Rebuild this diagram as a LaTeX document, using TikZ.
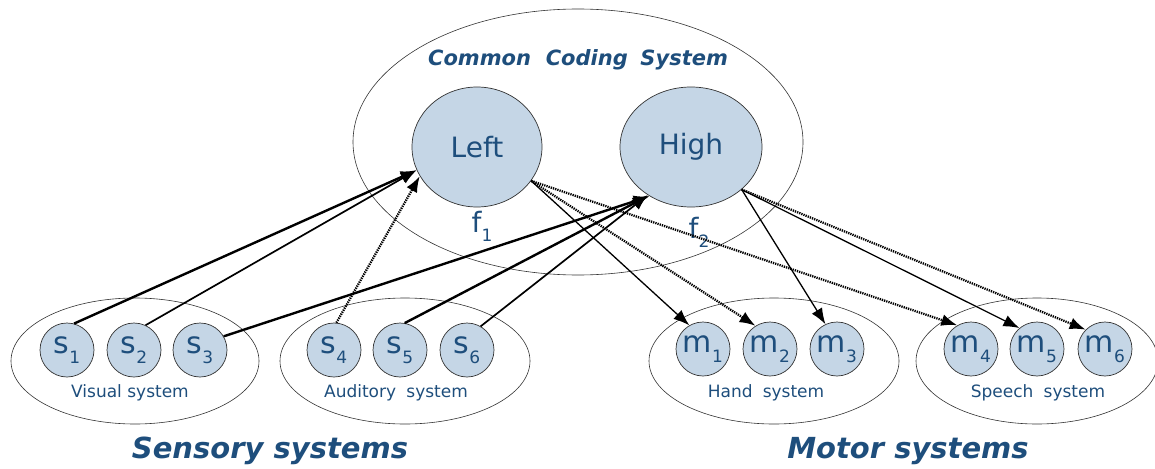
\documentclass[tikz,border=0pt]{standalone}
\usepackage{fontspec}
\setmainfont{DejaVu Sans}
\usetikzlibrary{shapes.geometric,arrows.meta}
\definecolor{txtblue}{RGB}{30,78,124}
\definecolor{cfill}{RGB}{197,214,230}
\newcommand{\lowsub}[1]{\raisebox{-0.32em}{\fontsize{17}{17}\selectfont #1}}
\begin{document}
\begin{tikzpicture}[x=1pt,y=-1pt,
  group/.style={ellipse, draw=black!80, line width=0.6pt, inner sep=0pt},
  unit/.style={circle, draw=black!80, line width=0.7pt, fill=cfill, minimum size=54pt, inner sep=0pt, font=\fontsize{30}{30}\selectfont, text=txtblue},
  feat/.style={ellipse, draw=black!80, line width=0.7pt, fill=cfill, inner sep=0pt, minimum height=120pt, font=\fontsize{28}{28}\selectfont, text=txtblue},
  lab/.style={text=txtblue, font=\fontsize{17}{17}\selectfont},
  flab/.style={text=txtblue, font=\fontsize{28}{28}\selectfont},
  headline/.style={text=txtblue, font=\fontsize{29}{29}\selectfont\bfseries\itshape},
  arr/.style={-{Latex[length=16pt,width=12pt]}},
  light/.style={arr, line width=1.3pt},
  medium/.style={arr, line width=1.7pt},
  heavy/.style={arr, line width=2.4pt},
  hatch/.style={arr, line width=2.3pt, dash pattern=on 1.3pt off 1pt}
]
\useasboundingbox (0,0) rectangle (1155,468);

% big ellipse and group ellipses
\node[group, minimum width=450pt, minimum height=266pt] (ccs) at (578,142) {};
\node[group, minimum width=248pt, minimum height=126pt] (vis) at (135,361) {};
\node[group, minimum width=250pt, minimum height=126pt] (aud) at (405,361) {};
\node[group, minimum width=250pt, minimum height=126pt] (hand) at (774,361) {};
\node[group, minimum width=242pt, minimum height=126pt] (speech) at (1037,361) {};

% feature codes
\node[feat, minimum width=130pt] (Left) at (477,147) {Left};
\node[feat, minimum width=142pt] (High) at (691,147) {High};
\node[flab] (f1) at (482,226) {f\lowsub{1}};
\node[flab] (f2) at (699,232) {f\lowsub{2}};

\node[text=txtblue, font=\fontsize{21}{21}\selectfont\bfseries\itshape] (title) at (578,60)
  {Common\hspace{0.7em}Coding\hspace{0.6em}System};

% sensory units
\node[unit] (s1) at (67,350) {s\lowsub{1}};
\node[unit] (s2) at (134,350) {s\lowsub{2}};
\node[unit] (s3) at (200,350) {s\lowsub{3}};
\node[unit] (s4) at (334,350) {s\lowsub{4}};
\node[unit] (s5) at (400,350) {s\lowsub{5}};
\node[unit] (s6) at (467,350) {s\lowsub{6}};

% motor units
\node[unit] (m1) at (703,349) {m\lowsub{1}};
\node[unit] (m2) at (770,349) {m\lowsub{2}};
\node[unit] (m3) at (837,349) {m\lowsub{3}};
\node[unit] (m4) at (971,349) {m\lowsub{4}};
\node[unit] (m5) at (1037,349) {m\lowsub{5}};
\node[unit] (m6) at (1105,349) {m\lowsub{6}};

% labels
\node[lab] (lvis) at (130,393) {Visual system};
\node[lab] (laud) at (396,393) {Auditory\hspace{0.6em}system};
\node[lab] (lhand) at (766,393) {Hand\hspace{0.6em}system};
\node[lab] (lspeech) at (1038,393) {Speech\hspace{0.6em}system};

\node[headline] (sens) at (270,451) {Sensory systems};
\node[headline] (mot) at (908,451) {Motor systems};

% sensory to common code
\draw[heavy] (s1.75) -- (Left.201);
\draw[medium] (s2.65) -- (Left.201);
\draw[hatch] (s4.85) -- (Left.207);
\draw[heavy] (s3.30) -- (High.230);
\draw[heavy] (s5.80) -- (High.229);
\draw[medium] (s6.60) -- (High.228);

% common code to motor
\draw[light] (Left.-32) -- (m1.120);
\draw[hatch] (Left.-32) -- (m2.122);
\draw[hatch] (Left.-32) -- (m4.120);
\draw[light] (High.-40) -- (m3.115);
\draw[light] (High.-40) -- (m5.130);
\draw[hatch] (High.-40) -- (m6.135);
\end{tikzpicture}
\end{document}
